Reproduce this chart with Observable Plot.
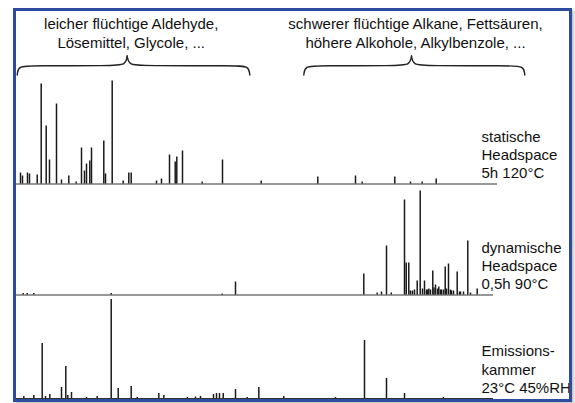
<!DOCTYPE html>
<html><head><meta charset="utf-8">
<script src="https://cdn.jsdelivr.net/npm/d3@7"></script>
<script src="https://cdn.jsdelivr.net/npm/@observablehq/plot@0.6"></script>
<style>
html,body{margin:0;padding:0;background:#fff;}
#wrap{position:relative;width:575px;height:403px;overflow:hidden;}
#frame{position:absolute;left:13px;top:8px;width:559px;height:394px;box-sizing:border-box;border:3px solid #2d4b9f;pointer-events:none;box-shadow:2px 2px 3px rgba(0,0,0,0.25);}
svg{display:block}
</style></head><body><div id="wrap"><div id="chart"></div><div id="frame"></div></div>
<script>
// Trace descriptions (top to bottom)
const traceLabels = ["statische\nHeadspace\n5h 120°C", "dynamische\nHeadspace\n0,5h 90°C", "Emissions-\nkammer\n23°C 45%RH"];
const traceOffsets = [214.5, 103.5, 0];
const traceStart = [0, 0, -0.1];
const traceEnd = [48.1, 47.7, 47.7];

// Retention time (arbitrary min) and peak heights
const staticRT = [0.40,0.6,1.1,1.3,2.07,2.47,2.97,3.30,4.00,4.50,5.23,5.97,6.50,6.80,7.00,7.33,7.50,8.73,8.90,9.57,10.67,11.23,11.47,14.0,14.5,15.3,15.87,16.03,16.6,18.57,20.6,24.47,30.13,33.9,34.57,37.83,39.4,40.57,41.97];
const staticH  = [11,8,11,10,9,100,58,24,80,4,8,2,36,13,20,23,36,43,10,103,3,11,11,3,5,29,22,27,33,2,24,3,7,8,2,7,2,2,5];

const dynamicRT = [0.67,1.07,1.73,9.47,20.57,21.9,34.73,36.07,36.5,37.0,37.47,38.8,38.97,39.23,39.4,39.6,39.8,40.07,40.37,40.6,40.8,41.0,41.1,41.23,41.4,41.63,41.75,41.9,42.1,42.23,42.4,42.5,42.7,42.87,43.0,43.2,43.4,43.5,43.7,44.07,44.3,44.4,44.7,45.13,45.4,46.07];
const dynamicH  = [1.5,1.5,1.5,1.5,1,13,21,2,3,49,2,95,32,32,4,4,5,14,104,6,14,5,5,6,5,24,7,10,6,8,5,5,5,28,6,31,5,4,4,23,3,3,3,54,2,6];

const emissionRT = [0.73,1.73,2.57,2.9,3.33,4.5,4.93,5.13,5.5,7.0,8.07,9.47,10.17,11.47,12.07,14.23,14.73,17.1,17.9,18.4,19.7,20.0,20.3,20.67,21.9,23.07,24.23,26.73,31.9,34.8,37.0,38.8,42.7];
const emissionH  = [2,3,55,2,4,11,32,3,6,1,2,99,10,12,1,5,3,1,1.5,2,4,5,5,5,9,1,11,2,1,58,20,5,1];

// Compound group annotations (braces)
const groupLabels = ["leicher flüchtige Aldehyde,\nLösemittel, Glycole, ...", "schwerer flüchtige Alkane, Fettsäuren,\nhöhere Alkohole, Alkylbenzole, ..."];
const groupFrom = [0.07, 28.73];
const groupTip = [11.07, 39.5];
const groupTo = [23.33, 50.83];

const traces = traceLabels.map((label, i) => ({label, offset: traceOffsets[i], start: traceStart[i], end: traceEnd[i]}));
const peakSets = [[staticRT, staticH], [dynamicRT, dynamicH], [emissionRT, emissionH]];
const peaks = peakSets.flatMap(([rt, h], i) => rt.map((r, j) => ({rt: r, base: traceOffsets[i], top: traceOffsets[i] + h[j]})));
const groups = groupLabels.map((label, i) => ({label, from: groupFrom[i], tip: groupTip[i], to: groupTo[i]}));

// brace outline geometry (in scale units)
const yEnd = 323.5, yMid = 332.5, yTip = 342.5;
const bracePts = groups.flatMap((g, i) => [
  {z: i + "a", x: g.from, y: yEnd}, {z: i + "a", x: g.from + 0.1, y: yMid}, {z: i + "a", x: g.from + 1.5, y: yMid + 0.3},
  {z: i + "a", x: g.tip - 1.5, y: yMid + 0.3}, {z: i + "a", x: g.tip - 0.15, y: yMid + 1}, {z: i + "a", x: g.tip, y: yTip},
  {z: i + "b", x: g.tip, y: yTip}, {z: i + "b", x: g.tip + 0.15, y: yMid + 1}, {z: i + "b", x: g.tip + 1.5, y: yMid + 0.3},
  {z: i + "b", x: g.to - 1.5, y: yMid + 0.3}, {z: i + "b", x: g.to - 0.1, y: yMid}, {z: i + "b", x: g.to, y: yEnd}
]);

const plot = Plot.plot({
  width: 575, height: 403,
  marginLeft: 16, marginRight: 78, marginTop: 0, marginBottom: 5,
  x: {domain: [0, 48.1], axis: null},
  y: {domain: [0, 398], axis: null},
  style: {fontFamily: "'Liberation Sans', Arial, sans-serif", color: "#111", background: "transparent", overflow: "visible"},
  marks: [
    Plot.ruleY(traces, {y: "offset", x1: "start", x2: "end", stroke: "#333", strokeWidth: 1.1}),
    Plot.ruleX(peaks, {x: "rt", y1: "base", y2: "top", stroke: "#1a1a1a", strokeWidth: 1.5}),
    Plot.line(bracePts, {x: "x", y: "y", z: "z", curve: "basis", stroke: "#222", strokeWidth: 1.4}),
    Plot.text(groups, {x: "tip", text: "label", frameAnchor: "top", lineAnchor: "bottom", dy: 47, dx: 4, fontSize: 15, lineHeight: 1.23, fill: "#111"}),
    Plot.text(traces, {y: "offset", text: "label", frameAnchor: "right", textAnchor: "start", lineAnchor: "bottom", dx: -16, dy: -5.7, fontSize: 15, lineHeight: 1.22, fill: "#111"})
  ]
});
document.getElementById("chart").appendChild(plot);
</script>
</body></html>
